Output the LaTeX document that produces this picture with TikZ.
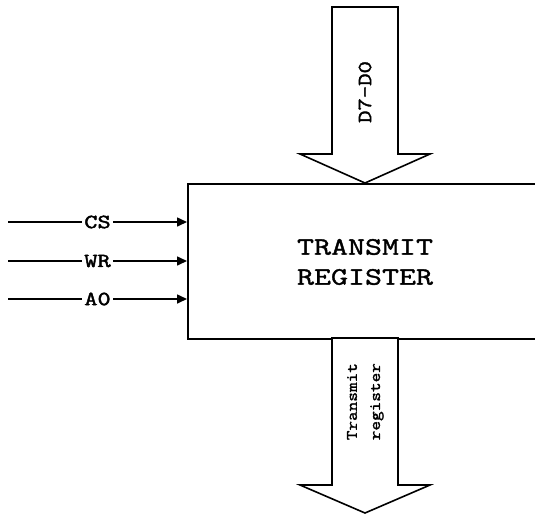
\documentclass[tikz,border=0pt]{standalone}
\usepackage{fontspec}
\newfontfamily\courA{Latin Modern Mono}[FakeStretch=1.32,FakeBold=1.5]
\newfontfamily\courB{Latin Modern Mono}[FakeStretch=1.28,FakeBold=2.2]
\newfontfamily\courD{Latin Modern Mono}[FakeStretch=1.2,FakeBold=1.8]
\newfontfamily\courC{Latin Modern Mono}[FakeStretch=1.17,FakeBold=1.8]
\usetikzlibrary{arrows.meta}
\begin{document}
\begin{tikzpicture}[x=1pt,y=-1pt,line width=1.6pt,
  bigarrow/.style={draw,fill=white,line join=miter},
  sig/.style={-{Triangle[length=10pt,width=9pt]}},
  siglabel/.style={fill=white,inner sep=2pt,font=\courB\fontsize{20}{20}\selectfont},
  vlabel/.style={rotate=90,inner sep=0pt},
  title/.style={align=center,font=\courA\fontsize{25}{30}\selectfont}]
\useasboundingbox (0,0) rectangle (535,515);
% register box (extends past the right edge)
\node[draw,anchor=north west,minimum width=400pt,minimum height=155pt,inner sep=0pt] (reg) at (187,183) {};
\node[title] (name) at (365,262) {TRANSMIT\\REGISTER};
% data bus in
\draw[bigarrow] (332,7) -- (398,7) -- (398,154) -- (430,154) -- (365,183) -- (300,154) -- (332,154) -- cycle;
\node[vlabel,font=\courD\fontsize{20}{20}\selectfont] (dbus) at (365,92) {D7-D0};
% output bus
\draw[bigarrow] (332,338) -- (398,338) -- (398,485) -- (430,485) -- (365,513) -- (300,485) -- (332,485) -- cycle;
\node[vlabel,anchor=west,font=\courC\fontsize{16}{16}\selectfont] (tx1) at (352,441) {Transmit};
\node[vlabel,anchor=west,font=\courC\fontsize{16}{16}\selectfont] (tx2) at (377,441) {register};
% control inputs
\coordinate (cs) at (8,222);
\coordinate (wr) at (8,261);
\coordinate (a0) at (8,299);
\draw[sig] (cs) -- node[siglabel] {CS} (cs -| reg.west);
\draw[sig] (wr) -- node[siglabel] {WR} (wr -| reg.west);
\draw[sig] (a0) -- node[siglabel] {A0} (a0 -| reg.west);
\end{tikzpicture}
\end{document}
